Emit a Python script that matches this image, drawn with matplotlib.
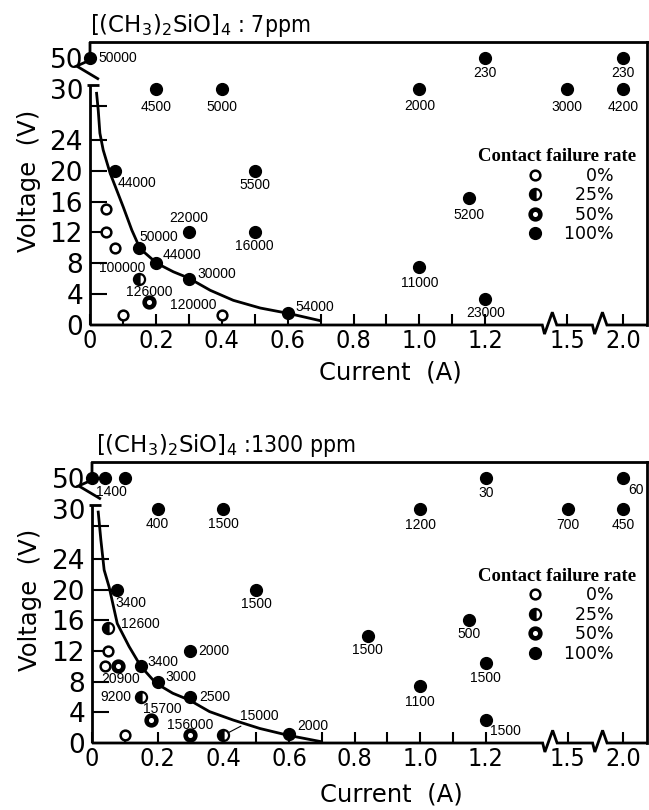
import numpy as np
import matplotlib.pyplot as plt
from matplotlib.lines import Line2D

# ---- data: [(CH3)2SiO]4 7 ppm ----
cur7 = [0.0, 0.2, 0.4, 0.075, 0.05, 0.05, 0.075, 0.15, 0.2, 0.15, 0.18, 0.1, 0.3,
        0.3, 0.4, 0.5, 0.5, 0.6, 1.2, 2.0, 1.0, 1.5, 2.0, 1.15, 1.0, 1.2]
volt7 = [50, 30, 30, 20, 15, 12, 10, 10, 8, 6, 3, 1.3, 6,
         12, 1.3, 20, 12, 1.5, 50, 50, 30, 30, 30, 16.5, 7.5, 3.4]
rate7 = [100, 100, 100, 100, 0, 0, 0, 100, 100, 25, 50, 0, 100,
         100, 0, 100, 100, 100, 100, 100, 100, 100, 100, 100, 100, 100]
life7 = ["50000", "4500", "5000", "44000", "", "", "", "50000", "44000", "100000", "126000", "", "30000",
         "22000", "120000", "5500", "16000", "54000", "230", "230", "2000", "3000", "4200", "5200", "11000", "23000"]
curve7_i = [0.020, 0.025, 0.030, 0.040, 0.061, 0.081, 0.101, 0.127, 0.152, 0.203, 0.253,
            0.299, 0.365, 0.435, 0.517, 0.603, 0.699]
curve7_v = [29.5, 27.5, 24.8, 22.7, 19.7, 17.5, 15.3, 12.3, 9.9, 8.0, 6.9,
            6.1, 4.5, 3.2, 2.2, 1.5, 0.56]

# ---- data: [(CH3)2SiO]4 1300 ppm ----
cur13 = [0.0, 0.04, 0.1, 0.2, 0.4, 0.075, 0.05, 0.05, 0.04, 0.08, 0.15, 0.2, 0.15, 0.18, 0.1, 0.3,
         0.4, 0.3, 0.3, 0.5, 0.6, 1.2, 2.0, 1.0, 1.5, 2.0, 1.15, 0.84, 1.2, 1.0, 1.2]
volt13 = [50, 50, 50, 30, 30, 20, 15, 12, 10, 10, 10, 8, 6, 3, 1, 1,
          1, 12, 6, 20, 1.2, 50, 50, 30, 30, 30, 16, 14, 10.5, 7.5, 3]
rate13 = [100, 100, 100, 100, 100, 100, 25, 0, 0, 50, 100, 100, 25, 50, 0, 50,
          25, 100, 100, 100, 100, 100, 100, 100, 100, 100, 100, 100, 100, 100, 100]
life13 = ["", "1400", "", "400", "1500", "3400", "12600", "", "", "20900", "3400", "3000", "9200", "15700", "", "156000",
          "15000", "2000", "2500", "1500", "2000", "30", "60", "1200", "700", "450", "500", "1500", "1500", "1100", "1500"]
curve13_i = [0.019, 0.027, 0.037, 0.052, 0.077, 0.113, 0.149, 0.195, 0.246, 0.297,
             0.358, 0.430, 0.511, 0.598, 0.695]
curve13_v = [29.6, 26.3, 22.6, 20.4, 15.6, 12.6, 10.0, 7.8, 6.5, 5.6,
             4.1, 3.0, 1.9, 1.0, 0.2]

rates = [0, 25, 50, 100]
rate_labels = ["\u2007\u20070%\u2007\u2007", "\u200725%\u2007\u2007", "\u200750%\u2007\u2007", "100%\u2007\u2007"]
xtick_vals = [0, 0.1, 0.2, 0.3, 0.4, 0.5, 0.6, 0.7, 0.8, 0.9, 1.0, 1.1, 1.2, 1.5, 2.0]
xtick_text = ["0", "", "0.2", "", "0.4", "", "0.6", "", "0.8", "", "1.0", "", "1.2", "1.5", "2.0"]
ytick_vals = [0, 4, 8, 12, 16, 20, 24, 28, 30, 50]
ytick_text = ["0", "4", "8", "12", "16", "20", "24", "", "30", "50"]

# label placement (pixel offsets from the marker, alignment)
place7 = [(8, 0, "left"), (0, -18, "center"), (0, -18, "center"), (3, -12, "left"), None, None, None,
          (19, 11, "center"), (7, 8, "left"), (6, 11, "right"), (0, 10, "center"), None, (9, 5, "left"),
          (0, 14, "center"), (-5, 10, "right"), (0, -14, "center"), (0, -14, "center"), (8, 6, "left"),
          (0, -15, "center"), (0, -15, "center"), (0, -17, "center"), (0, -18, "center"), (0, -18, "center"),
          (0, -17, "center"), (0, -16, "center"), (0, -14, "center")]
place13 = [None, (6, -14, "center"), None, (0, -15, "center"), (0, -15, "center"), (-1, -13, "left"),
           (13, 4, "left"), None, None, (2, -13, "center"), (6, 4, "left"), (8, 5, "left"), (-10, 0, "right"),
           (11, 11, "center"), None, (0, 10, "center"), (17, 19, "left"), (8, 0, "left"), (9, 0, "left"),
           (0, -14, "center"), (8, 8, "left"), (0, -15, "center"), (13, -12, "center"), (0, -16, "center"),
           (0, -16, "center"), (0, -16, "center"), (0, -14, "center"), (0, -14, "center"), (0, -15, "center"),
           (0, -16, "center"), (4, -11, "left")]

# broken axes: piecewise linear scales
XV, XU = [0, 1.2, 1.5, 2.0, 3.0], [0, 1.2, 1.449, 1.619, 1.953]
YV, YU = [0, 24, 30, 50, 80], [0, 24, 30.6, 34.6, 40.6]


def xf(v):
    return np.interp(v, XV, XU)


def xi(u):
    return np.interp(u, XU, XV)


def yf(v):
    return np.interp(v, YV, YU)


def yi(u):
    return np.interp(u, YU, YV)


cond = dict(family="DejaVu Sans", stretch="condensed")
reg = dict(family="DejaVu Sans")

marker_style = {
    0: dict(marker="o", ms=7, mfc="white", mec="black", mew=1.8, fillstyle="full"),
    25: dict(marker="o", ms=8, mfc="black", mfcalt="white", mec="black", mew=1.6, fillstyle="left"),
    50: dict(marker="o", ms=7, mfc="white", mec="black", mew=3.3, fillstyle="full"),
    100: dict(marker="o", ms=8.5, mfc="black", mec="black", mew=1, fillstyle="full"),
}


def draw(ax, cur, volt, rate, life, place, ci, cv, title, tx, ty, xlab_y, ylab_x):
    ax.set_xscale("function", functions=(xf, xi))
    ax.set_yscale("function", functions=(yf, yi))
    ax.set_xlim(0, 2.215)
    ax.set_ylim(0, 60.5)

    cur = np.array(cur)
    volt = np.array(volt)
    rate = np.array(rate)
    for r in rates:
        m = rate == r
        ax.plot(cur[m], volt[m], ls="none", clip_on=False, zorder=4, **marker_style[r])

    ax.plot(ci, cv, color="black", lw=2, zorder=3)

    for x, y, s, p in zip(cur, volt, life, place):
        if p is None:
            continue
        dx, dy, ha = p
        arrow = None
        if s == "15000":
            arrow = dict(arrowstyle="-", lw=0.8, shrinkA=0, shrinkB=4)
        ax.annotate(s, (x, y), xytext=(dx, dy), textcoords="offset pixels", ha=ha, va="center",
                    fontsize=10, family="Liberation Sans", arrowprops=arrow)

    ax.set_xticks(xtick_vals)
    ax.set_xticklabels(xtick_text, fontdict=cond)
    ax.set_yticks(ytick_vals)
    ax.set_yticklabels(ytick_text, fontdict=reg)
    ax.minorticks_off()
    ax.tick_params(axis="x", direction="in", length=8, width=1.5, labelsize=18, pad=3)
    ax.tick_params(axis="y", direction="in", length=12, width=1.5, labelsize=19, pad=5)
    for t, v in zip(ax.yaxis.get_major_ticks(), ytick_vals):
        if v in (0, 30, 50):
            t.tick1line.set_visible(False)

    for sp in ["top", "right"]:
        ax.spines[sp].set_linewidth(2)
    ax.spines["left"].set_visible(False)
    ax.spines["bottom"].set_visible(False)
    kw = dict(transform=ax.transAxes, color="black", lw=2, clip_on=False,
              solid_capstyle="butt", solid_joinstyle="miter")
    ax.plot([0, 0], [0, 0.848], **kw)
    ax.plot([-0.006, 0.016], [0.848, 0.848], **kw)
    ax.plot([0, 0, -0.024, 0.016], [1, 0.936, 0.915, 0.868], **kw)
    ax.plot([0, 0.812, 0.816, 0.830, 0.838, 0.902, 0.906, 0.920, 0.928, 1],
            [0, 0, -0.032, 0.045, 0, 0, -0.032, 0.045, 0, 0], **kw)

    ax.set_xlabel("Current  (A)", fontsize=17.5, **reg)
    ax.set_ylabel("Voltage  (V)", fontsize=17.5, **reg)
    ax.xaxis.set_label_coords(0.539, xlab_y)
    ax.yaxis.set_label_coords(ylab_x, 0.51)

    handles = [Line2D([], [], ls="none", **marker_style[r]) for r in rates]
    leg = ax.legend(handles, rate_labels, loc="upper right", bbox_to_anchor=(0.996, 0.655),
                    frameon=False, borderpad=0, handletextpad=1.2, labelspacing=0.09,
                    handlelength=1.0, prop=dict(size=12.5, **reg), alignment="right",
                    title="Contact failure rate",
                    title_fontproperties=dict(family="Liberation Serif", weight="bold", size=13.5))
    leg._legend_box.sep = 1

    ax.figure.text(tx, ty, title, fontsize=16.5, va="baseline", ha="left", **cond)


fig = plt.figure(figsize=(6.49, 8.10), dpi=100)
ax1 = fig.add_axes([90 / 649, 1 - 325 / 810, 557 / 649, 283 / 810])
ax2 = fig.add_axes([92 / 649, 1 - 743 / 810, 555 / 649, 281 / 810])

draw(ax1, cur7, volt7, rate7, life7, place7, curve7_i, curve7_v,
     r"$[(\mathrm{CH_3})_2\mathrm{SiO}]_4$ : 7ppm", 90 / 649, 1 - 32 / 810, -0.124, -0.088)
draw(ax2, cur13, volt13, rate13, life13, place13, curve13_i, curve13_v,
     r"$[(\mathrm{CH_3})_2\mathrm{SiO}]_4$ :1300 ppm", 96 / 649, 1 - 452 / 810, -0.142, -0.09)

plt.savefig("out.png", dpi=100)
